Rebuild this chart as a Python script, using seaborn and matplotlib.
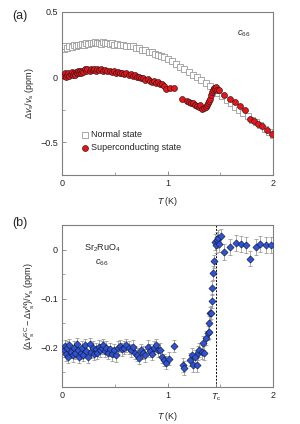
import numpy as np
import pandas as pd
import matplotlib
matplotlib.use("Agg")
import matplotlib.pyplot as plt
import seaborn as sns

# ---- panel (a): normal state (open squares) ----
t_normal = [0.02, 0.03, 0.05, 0.07, 0.09, 0.11, 0.13, 0.15, 0.17, 0.19, 0.21, 0.23, 0.25,
            0.27, 0.29, 0.31, 0.33, 0.35, 0.37, 0.39, 0.41, 0.43, 0.45, 0.47, 0.49, 0.52,
            0.55, 0.58, 0.61, 0.64, 0.67, 0.70, 0.73, 0.76, 0.79, 0.82, 0.85, 0.88, 0.91,
            0.94, 0.97, 1.00, 1.04, 1.08, 1.12, 1.16, 1.20, 1.24, 1.28, 1.32, 1.36, 1.40,
            1.44, 1.48, 1.52, 1.56, 1.60, 1.64, 1.68, 1.72, 1.76, 1.80, 1.84, 1.88, 1.92,
            1.96, 2.00]
v_normal = [0.215, 0.235, 0.22, 0.24, 0.23, 0.245, 0.24, 0.25, 0.245, 0.255, 0.25, 0.26, 0.255,
            0.265, 0.26, 0.27, 0.26, 0.265, 0.255, 0.27, 0.26, 0.265, 0.255, 0.26, 0.25, 0.255,
            0.245, 0.25, 0.24, 0.235, 0.235, 0.225, 0.22, 0.21, 0.205, 0.195, 0.19, 0.18, 0.17,
            0.165, 0.155, 0.14, 0.125, 0.10, 0.08, 0.06, 0.04, 0.02, 0.0, -0.02, -0.045, -0.07,
            -0.095, -0.12, -0.145, -0.175, -0.20, -0.225, -0.25, -0.275, -0.30, -0.325, -0.345,
            -0.37, -0.395, -0.42, -0.44]

# ---- panel (a): superconducting state (red circles) ----
t_sc = [0.02, 0.03, 0.04, 0.05, 0.06, 0.07, 0.08, 0.09, 0.10, 0.11, 0.12, 0.13, 0.14, 0.15,
        0.16, 0.17, 0.18, 0.19, 0.20, 0.22, 0.23, 0.24, 0.26, 0.27, 0.29, 0.30, 0.32, 0.33,
        0.35, 0.37, 0.39, 0.41, 0.43, 0.45, 0.47, 0.49, 0.51, 0.53, 0.55, 0.57, 0.59, 0.61,
        0.63, 0.65, 0.67, 0.69, 0.71, 0.73, 0.75, 0.77, 0.79, 0.81, 0.83, 0.85, 0.87, 0.89,
        0.91, 0.93, 0.95, 0.97, 0.99, 1.02, 1.06,
        1.14, 1.18, 1.20, 1.22, 1.24, 1.26, 1.28, 1.30, 1.31, 1.33, 1.35, 1.36, 1.37, 1.38,
        1.39, 1.40, 1.41, 1.42, 1.43, 1.44, 1.45, 1.46, 1.47, 1.49, 1.54, 1.59, 1.64, 1.69,
        1.73, 1.78, 1.82, 1.86, 1.90, 1.94, 1.99]
v_sc = [0.01, 0.03, 0.005, 0.02, 0.035, 0.01, 0.025, 0.04, 0.02, 0.035, 0.015, 0.04, 0.03, 0.05,
        0.035, 0.045, 0.03, 0.05, 0.04, 0.065, 0.05, 0.06, 0.045, 0.06, 0.055, 0.065, 0.05, 0.06,
        0.055, 0.06, 0.05, 0.055, 0.045, 0.05, 0.04, 0.045, 0.035, 0.04, 0.03, 0.035, 0.025, 0.03,
        0.02, 0.025, 0.01, 0.015, 0.005, 0.0, -0.005, -0.01, -0.02, -0.015, -0.03, -0.035, -0.03,
        -0.045, -0.04, -0.055, -0.05, -0.07, -0.09, -0.08, -0.085,
        -0.17, -0.185, -0.19, -0.20, -0.195, -0.21, -0.22, -0.23, -0.215, -0.24, -0.235, -0.225,
        -0.215, -0.20, -0.185, -0.165, -0.14, -0.115, -0.095, -0.085, -0.09, -0.075, -0.095,
        -0.10, -0.135, -0.165, -0.19, -0.22, -0.255, -0.32, -0.335, -0.355, -0.375, -0.405, -0.435]

# ---- panel (b): difference with error bars ----
t_diff = [0.02, 0.03, 0.04, 0.05, 0.06, 0.07, 0.08, 0.10, 0.11, 0.12, 0.14, 0.15, 0.16, 0.18,
          0.19, 0.20, 0.22, 0.23, 0.25, 0.26, 0.27, 0.29, 0.30, 0.32, 0.33, 0.35, 0.36, 0.38,
          0.39, 0.41, 0.42, 0.44, 0.45, 0.47, 0.49, 0.51, 0.53, 0.55, 0.57, 0.59, 0.61, 0.63,
          0.65, 0.67, 0.69, 0.71, 0.73, 0.75, 0.77, 0.79, 0.81, 0.83, 0.85, 0.87, 0.89, 0.91,
          0.93, 0.95, 0.97, 0.99, 1.01, 1.06,
          1.15, 1.16, 1.21, 1.23, 1.24, 1.26, 1.28, 1.29, 1.30, 1.33, 1.34, 1.35, 1.36, 1.38,
          1.39, 1.395, 1.40, 1.41, 1.42, 1.425, 1.43, 1.44, 1.45, 1.46, 1.47, 1.48, 1.49, 1.51,
          1.54, 1.59, 1.65, 1.70, 1.74, 1.78, 1.84, 1.88, 1.93, 1.98]
d_diff = [-0.205, -0.197, -0.213, -0.20, -0.218, -0.195, -0.208, -0.215, -0.20, -0.21, -0.193,
          -0.205, -0.218, -0.21, -0.20, -0.214, -0.195, -0.206, -0.218, -0.192, -0.208, -0.20,
          -0.212, -0.203, -0.21, -0.198, -0.205, -0.20, -0.194, -0.206, -0.20, -0.21, -0.203,
          -0.213, -0.205, -0.215, -0.20, -0.196, -0.203, -0.20, -0.195, -0.20, -0.205, -0.198,
          -0.21, -0.214, -0.22, -0.205, -0.21, -0.215, -0.198, -0.206, -0.212, -0.20, -0.195,
          -0.205, -0.204, -0.218, -0.225, -0.23, -0.222, -0.196,
          -0.235, -0.241, -0.224, -0.214, -0.235, -0.218, -0.235, -0.21, -0.204, -0.208, -0.19,
          -0.21, -0.18, -0.17, -0.167, -0.15, -0.13, -0.128, -0.104, -0.078, -0.048, -0.024,
          0.016, 0.01, 0.02, 0.024, 0.012, 0.027, -0.004, 0.006, 0.014, 0.012, 0.01, -0.018,
          0.006, 0.012, 0.01, 0.01]
e_diff = [0.013] * 62 + [0.014] * 22 + [0.016] * 16

t_c = 1.46
xtick_b = [0, 1, t_c, 2]
xtick_b_labels = ["0", "1", r"$T_{\rm c}$", "2"]

sns.set_theme(style="ticks")
plt.rcParams["font.family"] = ["Liberation Sans", "DejaVu Sans"]
plt.rcParams["mathtext.fontset"] = "custom"
plt.rcParams["mathtext.rm"] = "Liberation Sans"
plt.rcParams["mathtext.it"] = "Liberation Sans:italic"
plt.rcParams["font.size"] = 6

fig = plt.figure(figsize=(3.0, 4.24), dpi=100)
ax1 = fig.add_axes([0.207, 0.587, 0.703, 0.385])
ax2 = fig.add_axes([0.207, 0.087, 0.703, 0.382])

df_n = pd.DataFrame({"T": t_normal, "v": v_normal})
df_s = pd.DataFrame({"T": t_sc, "v": v_sc})
sns.scatterplot(data=df_n, x="T", y="v", ax=ax1, marker="s", s=16, facecolor="white",
                edgecolor="#9a9a9a", linewidth=0.6, label="Normal state", zorder=2)
sns.scatterplot(data=df_s, x="T", y="v", ax=ax1, marker="o", s=18, color="#e8141a",
                edgecolor="#3a1a1a", linewidth=0.5, label="Superconducting state", zorder=3)

ax2.errorbar(t_diff, d_diff, yerr=e_diff, fmt="none", ecolor="#8c8c8c", elinewidth=0.5,
             capsize=1.5, capthick=0.5, zorder=1)
df_d = pd.DataFrame({"T": t_diff, "d": d_diff})
sns.scatterplot(data=df_d, x="T", y="d", ax=ax2, marker="D", s=13, color="#2f52d6",
                edgecolor="#15204a", linewidth=0.5, zorder=3, legend=False)
ax2.axvline(t_c, color="black", linestyle=(0, (2, 1.5)), linewidth=0.7, zorder=0)

for ax in (ax1, ax2):
    ax.set_xlim(0, 2)
    for sp in ax.spines.values():
        sp.set_color("#7f7f7f")
        sp.set_linewidth(0.8)
    ax.tick_params(direction="in", length=3, width=0.6, color="#7f7f7f", labelsize=6.5, pad=3)
    ax.tick_params(which="minor", direction="in", length=2, width=0.5, color="#7f7f7f")
    ax.set_xlabel(r"$T$ (K)", fontsize=6.5, labelpad=5)

ax1.set_ylim(-0.75, 0.5)
ax1.set_xticks([0, 1, 2])
ax1.set_xticks([0.5, 1.5], minor=True)
ax1.set_yticks([-0.5, 0, 0.5])
ax1.set_yticklabels(["\u22120.5", "0", "0.5"])
ax1.set_yticks([-0.25, 0.25], minor=True)
ax1.set_ylabel(r"$\Delta v_{\rm s}/v_{\rm s}$ (ppm)", fontsize=6.5, labelpad=3)
ax1.legend(loc="lower left", bbox_to_anchor=(0.07, 0.12), frameon=False, fontsize=6.5,
           handletextpad=0.2, borderaxespad=0, labelspacing=0.4, handlelength=1.0)
ax1.text(1.72, 0.33, r"$c_{66}$", fontsize=6.5, ha="center", va="center")
ax1.text(-0.4, 0.47, "(a)", fontsize=9, ha="center", va="center")

ax2.set_ylim(-0.28, 0.05)
ax2.set_xticks(xtick_b)
ax2.set_xticklabels(xtick_b_labels)
ax2.set_xticks([0.5, 1.5], minor=True)
ax2.set_yticks([-0.2, -0.1, 0])
ax2.set_yticklabels(["\u22120.2", "\u22120.1", "0"])
ax2.set_yticks([-0.25, -0.15, -0.05], minor=True)
ax2.set_ylabel(r"$(\Delta v_{\rm s}^{\rm SC} - \Delta v_{\rm s}^{\rm N})/v_{\rm s}$ (ppm)",
               fontsize=6.5, labelpad=2)
ax2.text(0.38, 0.002, r"Sr$_2$RuO$_4$", fontsize=6.5, ha="center", va="center")
ax2.text(0.38, -0.027, r"$c_{66}$", fontsize=6.5, ha="center", va="center")
ax2.text(-0.4, 0.055, "(b)", fontsize=9, ha="center", va="center")

fig.savefig("out.png", dpi=100)
